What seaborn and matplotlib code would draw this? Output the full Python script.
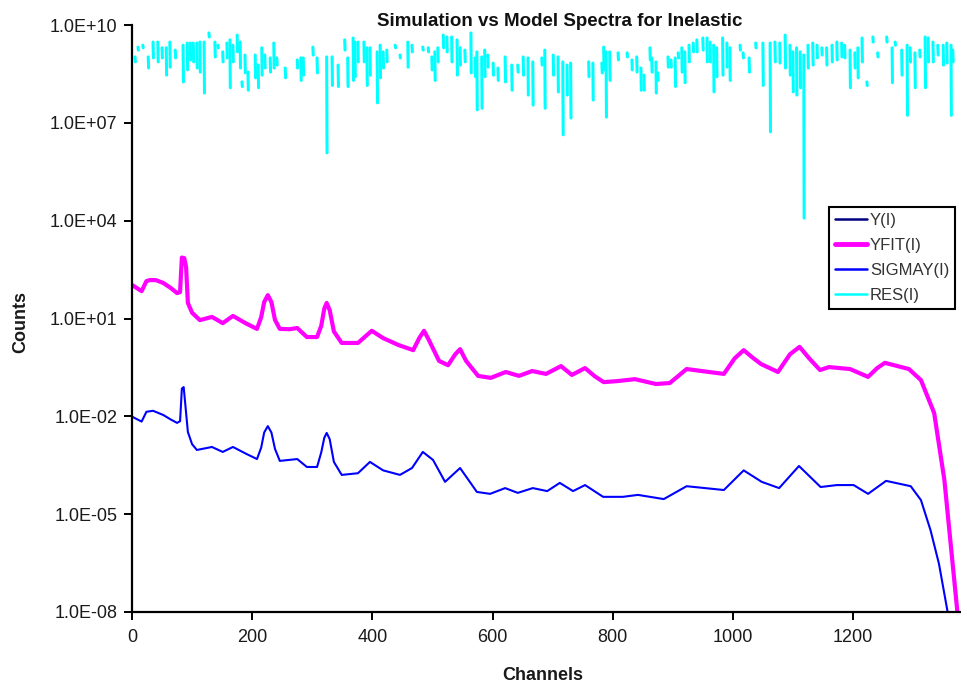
import numpy as np
import pandas as pd
import matplotlib
matplotlib.use("Agg")
import matplotlib.pyplot as plt
from matplotlib.lines import Line2D
from matplotlib.ticker import FixedLocator, NullLocator
import seaborn as sns

# ---------------- data ----------------
yfit_ch = [0, 16, 24, 30, 40, 52, 65, 75, 80, 83, 87, 90, 93, 100, 113, 133, 151, 168, 190, 208,
           215, 220, 226, 232, 238, 246, 262, 275, 291, 308, 315, 320, 324, 329, 336, 349, 376, 399,
           418, 443, 468, 478, 486, 494, 511, 526, 538, 546, 556, 576, 597, 622, 644, 666, 689, 714,
           732, 754, 770, 785, 807, 837, 872, 895, 923, 948, 985, 1003, 1018, 1032, 1047, 1075, 1095,
           1111, 1127, 1145, 1160, 1195, 1225, 1240, 1253, 1293, 1313, 1335, 1352, 1363, 1374]
yfit_val = [107, 69, 140, 151, 150, 123, 85, 60, 65, 740, 708, 380, 30, 15, 8.9, 11.2, 7.2, 12.0, 7.0, 4.8,
            11, 32, 52, 32, 9, 4.8, 4.7, 5.1, 2.7, 2.7, 6, 20, 30, 18, 4, 1.78, 1.78, 4.2,
            2.5, 1.55, 1.07, 2.5, 4.2, 2.2, 0.50, 0.37, 0.8, 1.15, 0.5, 0.174, 0.151, 0.229, 0.174, 0.245, 0.20, 0.347,
            0.186, 0.302, 0.17, 0.112, 0.120, 0.138, 0.098, 0.105, 0.282, 0.245, 0.20, 0.6, 1.07, 0.65, 0.40, 0.229, 0.8,
            1.35, 0.6, 0.263, 0.324, 0.282, 0.162, 0.3, 0.437, 0.282, 0.129, 0.0126, 1.12e-4, 9.8e-7, 8.7e-9]

# Y(I) lies underneath YFIT(I)
y_ch = yfit_ch
y_val = yfit_val

sigmay_ch = [0, 16, 24, 35, 52, 65, 75, 80, 83, 86, 88, 93, 100, 108, 133, 151, 168, 190, 208, 215,
             220, 226, 232, 238, 246, 275, 291, 308, 315, 320, 324, 329, 336, 349, 376, 396, 418, 446,
             466, 484, 501, 521, 546, 574, 596, 621, 642, 667, 691, 712, 734, 754, 784, 817, 842, 885,
             923, 985, 1018, 1048, 1077, 1110, 1146, 1173, 1201, 1225, 1255, 1296, 1313, 1329, 1343, 1358]
sigmay_val = [9.8e-3, 6.9e-3, 1.38e-2, 1.48e-2, 1.10e-2, 7.9e-3, 6.3e-3, 7.1e-3, 7.1e-2, 7.9e-2, 3.2e-2, 3.3e-3,
              1.4e-3, 9.3e-4, 1.15e-3, 8.1e-4, 1.15e-3, 7.1e-4, 4.9e-4, 1.1e-3,
              3.2e-3, 5.0e-3, 3.2e-3, 1.0e-3, 4.3e-4, 4.9e-4, 2.8e-4, 2.8e-4, 7.9e-4, 2.2e-3, 3.1e-3, 2.0e-3,
              4.0e-4, 1.6e-4, 1.8e-4, 4.0e-4, 2.2e-4, 1.6e-4,
              2.6e-4, 8.1e-4, 4.6e-4, 9.8e-5, 2.6e-4, 4.8e-5, 4.2e-5, 6.3e-5, 4.5e-5, 6.3e-5, 5.1e-5, 9.1e-5,
              5.1e-5, 7.8e-5, 3.4e-5, 3.4e-5, 3.9e-5, 2.9e-5,
              7.2e-5, 5.5e-5, 2.2e-4, 9.8e-5, 6.3e-5, 3.0e-4, 6.8e-5, 7.8e-5, 7.8e-5, 4.2e-5, 1.05e-4, 7.2e-5,
              2.7e-5, 3.2e-6, 3.0e-7, 8.7e-9]

# RES(I): positive residual excursions (negative ones are not drawable on a log axis)
res_ch = [5, 10, 18, 27, 35, 43, 50, 57, 63, 72, 85, 92, 97, 102, 108, 113, 120, 128, 138, 143, 151, 158,
          163, 168, 175, 180, 183, 188, 193, 205, 210, 216, 221, 230, 236, 241, 255, 275, 281, 285, 301, 308,
          324, 333, 343,
          354, 359, 368, 371, 376, 386, 391, 396, 408, 413, 418, 424, 438, 446, 459, 466, 484, 493, 499, 504,
          509, 518, 524, 532, 541, 546, 554, 564, 571, 574, 582, 587, 592, 601, 609, 621, 632, 642, 651, 659,
          667, 682, 687,
          701, 709, 717, 724, 730, 760, 767, 782, 785, 789, 795, 809, 824, 832, 840, 847, 852, 862, 865, 872,
          875, 892, 897, 904, 909, 915, 920, 927, 934, 940, 950, 957, 962, 968, 973, 983, 990, 995, 1012, 1017,
          1027, 1038,
          1050, 1062, 1070, 1078, 1087, 1095, 1100, 1106, 1112, 1118, 1125, 1133, 1140, 1148, 1156, 1165, 1173,
          1181, 1186, 1195, 1203, 1208, 1215, 1223, 1233, 1241, 1256, 1265, 1270, 1281, 1290, 1295, 1303, 1311,
          1320, 1325, 1333, 1341, 1350, 1356, 1363, 1366]
res_hi = [1.05e9, 2.1e9, 2.4e9, 1.05e9, 3.0e9, 3.0e9, 2.0e9, 2.0e9, 3.0e9, 1.7e9, 2.4e9, 2.8e9, 2.8e9, 2.8e9,
          2.8e9, 3.0e9, 3.0e9, 5.7e9, 3.0e9, 2.4e9, 1.5e9, 2.8e9, 3.5e9, 2.4e9, 4.9e9, 3.0e9, 1.8e8, 1.2e9,
          3.6e8, 1.2e9, 5.9e8, 2.0e9, 1.2e9, 9.8e8, 2.8e9, 9.8e8, 4.8e8, 8.5e8, 9.8e8, 9.8e8, 2.1e9, 9.8e8,
          1.05e9, 1.05e9, 5.9e8,
          3.5e9, 9.8e8, 4.0e9, 3.0e9, 3.0e9, 3.0e9, 2.0e9, 2.0e9, 1.5e9, 2.4e9, 1.5e9, 1.7e9, 2.4e9, 1.2e9,
          3.0e9, 2.4e9, 2.1e9, 2.0e9, 1.05e9, 1.5e9, 2.0e9, 4.9e9, 4.3e9, 4.3e9, 3.5e9, 2.0e9, 1.7e9, 5.7e9,
          9.8e8, 1.5e9, 1.05e9, 1.7e9, 1.2e9, 6.8e8, 4.8e8, 1.05e9, 5.9e8, 5.9e8, 1.05e9, 9.8e8, 7.4e8,
          9.8e8, 1.7e9,
          1.2e9, 1.05e9, 7.4e8, 5.9e8, 6.8e8, 7.4e8, 6.8e8, 6.8e8, 2.1e9, 1.5e9, 1.5e9, 1.4e9, 1.4e9, 8.5e8,
          1.05e9, 4.8e8, 2.9e8, 2.0e9, 9.8e8, 7.4e8, 3.4e8, 1.05e9, 8.5e8, 9.8e8, 1.4e9, 2.0e9, 1.5e9, 2.4e9,
          2.8e9, 3.5e9, 4.0e9, 4.0e9, 3.0e9, 2.4e9, 2.0e9, 4.0e9, 2.8e9, 2.0e9, 2.4e9, 1.4e9, 9.8e8, 2.8e9,
          2.8e9, 2.8e9, 3.0e9, 2.8e9, 4.9e9, 2.4e9, 1.5e9, 2.0e9, 1.5e9, 1.2e9, 2.4e9, 2.8e9, 2.4e9, 2.0e9,
          2.0e9, 2.4e9, 3.0e9, 2.8e9, 2.4e9, 1.7e9, 1.4e9, 2.0e9, 4.0e9, 1.8e8, 4.3e9, 1.4e9, 4.3e9, 2.0e9,
          3.0e9, 1.7e9, 2.4e9, 2.0e9, 1.4e9, 1.7e9, 4.3e9, 4.0e9, 3.0e9, 2.4e9, 2.4e9, 2.8e9, 2.4e9, 1.7e9]
res_lo = [7.4e8, 1.7e9, 2.0e9, 4.8e8, 9.8e8, 7.4e8, 9.8e8, 2.9e8, 5.1e8, 9.8e8, 1.8e8, 4.2e8, 8.5e8, 7.4e8,
          4.8e8, 3.6e8, 8.2e7, 4.3e9, 1.05e9, 2.0e9, 7.4e8, 9.8e8, 1.2e8, 7.4e8, 1.5e9, 4.8e8, 1.3e8, 3.4e8,
          1.0e8, 2.4e8, 1.2e8, 2.9e8, 4.8e8, 3.6e8, 4.8e8, 5.9e8, 2.4e8, 4.8e8, 2.0e8, 2.9e8, 1.2e9, 3.4e8,
          1.2e6, 1.4e8, 1.3e8,
          1.7e9, 1.3e8, 2.0e8, 2.6e8, 7.4e8, 7.4e8, 1.4e8, 2.9e8, 4.1e7, 2.4e8, 4.8e8, 7.4e8, 2.0e9, 9.8e8,
          5.1e8, 1.5e9, 1.7e9, 1.5e9, 4.2e8, 2.0e8, 7.4e8, 2.0e9, 1.5e9, 7.4e8, 2.9e8, 5.9e8, 7.4e8, 3.4e8,
          2.6e8, 2.5e7, 2.8e7, 2.6e8, 5.1e8, 2.9e8, 2.0e8, 1.8e8, 1.0e8, 3.6e8, 2.9e8, 7.1e7, 3.5e7,
          5.9e8, 2.8e7,
          2.9e8, 8.9e7, 4.3e6, 7.1e7, 1.4e7, 2.6e8, 5.0e7, 3.4e8, 4.2e8, 1.5e7, 2.0e8, 8.5e8, 1.05e9, 4.2e8,
          3.6e8, 1.0e8, 1.0e8, 8.5e8, 3.6e8, 8.2e7, 2.0e8, 5.1e8, 5.1e8, 1.3e8, 9.8e8, 3.6e8, 1.7e8, 7.4e8,
          1.5e9, 1.5e9, 1.7e9, 7.4e8, 7.4e8, 8.9e7, 2.6e8, 2.9e8, 5.1e8, 2.0e8, 1.7e9, 9.8e8, 3.6e8, 2.0e9,
          1.4e8, 5.3e6, 7.4e8, 6.8e8, 4.8e8, 2.9e8, 8.9e7, 7.1e7, 1.2e8, 1.2e4, 4.8e8, 5.9e8, 9.8e8, 1.2e9,
          5.9e8, 7.4e8, 8.5e8, 1.05e9, 9.8e8, 1.2e8, 4.8e8, 2.4e8, 7.4e8, 1.4e8, 3.0e9, 1.05e9, 3.0e9, 1.7e8,
          2.4e9, 2.9e8, 1.7e7, 7.4e8, 1.2e8, 1.05e9, 1.2e8, 7.4e8, 7.4e8, 1.2e9, 5.9e8, 6.8e8, 1.7e7, 7.4e8]

ytick_vals = [1e-8, 1e-5, 1e-2, 1e1, 1e4, 1e7, 1e10]
ytick_labels = ["1.0E-08", "1.0E-05", "1.0E-02", "1.0E+01", "1.0E+04", "1.0E+07", "1.0E+10"]
xtick_vals = [0, 200, 400, 600, 800, 1000, 1200]

# ---------------- style ----------------
sns.set_theme(style="white")
plt.rcParams["font.family"] = ["Liberation Sans", "DejaVu Sans"]

fig = plt.figure(figsize=(9.61, 6.87), dpi=100)
ax = fig.add_axes([132 / 961, 1 - 612 / 687, (960 - 132) / 961, (612 - 25) / 687])

df_y = pd.DataFrame({"ch": y_ch, "val": y_val})
df_fit = pd.DataFrame({"ch": yfit_ch, "val": yfit_val})
df_sig = pd.DataFrame({"ch": sigmay_ch, "val": sigmay_val})

rows = []
for i, (c, hi, lo) in enumerate(zip(res_ch, res_hi, res_lo)):
    rows.append({"ch": c, "val": hi, "stroke": i})
    rows.append({"ch": c + 0.6, "val": lo, "stroke": i})
df_res = pd.DataFrame(rows)

line_kw = dict(solid_joinstyle="round", solid_capstyle="round")
sns.lineplot(data=df_res, x="ch", y="val", units="stroke", estimator=None,
             color="#00FFFF", lw=2.2, ax=ax, legend=False)
sns.lineplot(data=df_y, x="ch", y="val", color="#000080", lw=1.5, ax=ax,
             estimator=None, legend=False, **line_kw)
sns.lineplot(data=df_fit, x="ch", y="val", color="#FF00FF", lw=3.0, ax=ax,
             estimator=None, legend=False, **line_kw)
sns.lineplot(data=df_sig, x="ch", y="val", color="#0000FF", lw=1.5, ax=ax,
             estimator=None, legend=False, **line_kw)

ax.set_yscale("log")
ax.set_ylim(1e-8, 1e10)
ax.set_xlim(0, 1378)
ax.yaxis.set_major_locator(FixedLocator(ytick_vals))
ax.yaxis.set_minor_locator(NullLocator())
ax.set_yticklabels(ytick_labels)
ax.set_xticks(xtick_vals)
ax.set_xticklabels([str(v) for v in xtick_vals])

for s in ["top", "right"]:
    ax.spines[s].set_visible(False)
for s in ["left", "bottom"]:
    ax.spines[s].set_color("black")
    ax.spines[s].set_linewidth(1.6)

ax.tick_params(axis="both", which="major", direction="out", length=5.5, width=1.4,
               color="black", labelsize=13, labelcolor="#1a1a1a", left=True, bottom=True)
ax.tick_params(axis="y", pad=5)
ax.tick_params(axis="x", pad=7)

ax.set_xlabel("Channels", fontsize=13, fontweight="bold", color="#1a1a1a")
ax.set_ylabel("Counts", fontsize=13, fontweight="bold", color="#1a1a1a")
ax.xaxis.set_label_coords((543 - 132) / 828, (612 - 667) / 587)
ax.yaxis.set_label_coords((29 - 132) / 828, (612 - 322) / 587)

fig.text(560 / 961, 1 - 21 / 687, "Simulation vs Model Spectra for Inelastic",
         ha="center", va="center", fontsize=13.5, fontweight="bold", color="#111111")

handles = [Line2D([], [], color="#000080", lw=1.8),
           Line2D([], [], color="#FF00FF", lw=3.5),
           Line2D([], [], color="#0000FF", lw=1.8),
           Line2D([], [], color="#00FFFF", lw=1.8)]
labels = ["Y(I)", "YFIT(I)", "SIGMAY(I)", "RES(I)"]
leg = fig.legend(handles, labels, loc="upper left",
                 bbox_to_anchor=(829 / 961, 1 - 207 / 687), bbox_transform=fig.transFigure,
                 fontsize=12, frameon=True, fancybox=False, shadow=False,
                 handlelength=1.9, handletextpad=0.2, labelspacing=0.6,
                 borderpad=0.35, borderaxespad=0.0)
leg.get_frame().set_edgecolor("black")
leg.get_frame().set_linewidth(1.5)
leg.get_frame().set_facecolor("white")
leg.get_frame().set_alpha(1.0)
for t in leg.get_texts():
    t.set_color("#333333")

fig.savefig("out.png", dpi=100)
